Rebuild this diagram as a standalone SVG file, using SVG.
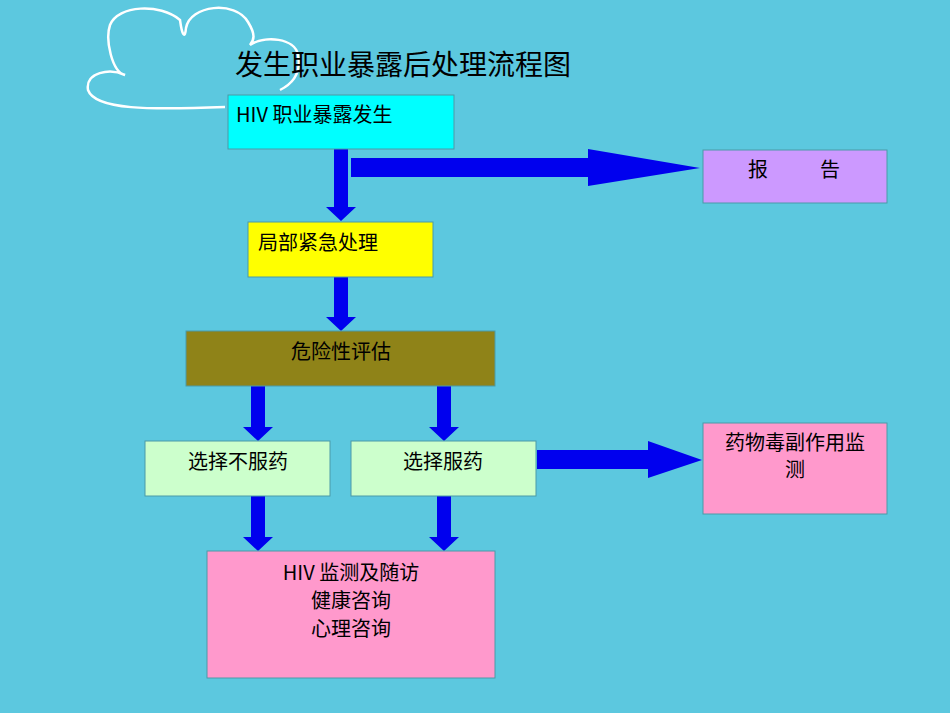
<svg xmlns="http://www.w3.org/2000/svg" width="950" height="713" viewBox="0 0 950 713">
<style>
.b{stroke:#4a9aa8;stroke-width:1}
.t{font-family:"Noto Sans CJK SC","Liberation Sans",sans-serif;font-size:20px;fill:#000}
.a{fill:#0000EE}
</style>
<rect width="950" height="713" fill="#5CC8DF"/>
<path d="M225,107 C150,110 95,110 88,90 C85,72 110,68 125,75 C112,72 105,40 110,25 C118,5 160,3 180,20 C182,35 185,40 186,28 C190,5 235,0 248,22 C256,35 254,40 250,45 C265,35 295,38 298,55 C302,75 290,85 280,90" fill="none" stroke="#fff" stroke-width="2.5"/>
<text x="235" y="75" style="font-family:'Noto Sans CJK SC',sans-serif;font-size:28px">发生职业暴露后处理流程图</text>
<g id="connectors">
<path class="a" d="M334,149h14v58h8l-15,14l-15,-14h8z"/>
<path class="a" d="M351,158h237v-9l112,19l-112,18v-9h-237z"/>
<path class="a" d="M334,277h14v40h8l-15,14l-15,-14h8z"/>
<path class="a" d="M251,386h14v41h8l-15,14l-15,-14h8z"/>
<path class="a" d="M437,386h14v41h8l-15,14l-15,-14h8z"/>
<path class="a" d="M251,496h14v41h8l-15,14l-15,-14h8z"/>
<path class="a" d="M437,496h14v41h8l-15,14l-15,-14h8z"/>
<path class="a" d="M537,450h111v-9l54,19l-54,18v-9h-111z"/>
</g>
<g id="n1"><rect class="b" x="228" y="95" width="226" height="54" fill="#00FFFF"/><text class="t" x="236" y="122">HIV 职业暴露发生</text></g>
<g id="n2"><rect class="b" x="703" y="150" width="184" height="53" fill="#CC99FF"/><text class="t" x="748" y="177">报</text><text class="t" x="820" y="177">告</text></g>
<g id="n3"><rect class="b" x="248" y="222" width="185" height="55" fill="#FFFF00"/><text class="t" x="258" y="250">局部紧急处理</text></g>
<g id="n4"><rect class="b" x="186" y="331" width="309" height="55" fill="#8F8318"/><text class="t" x="341" y="359" text-anchor="middle">危险性评估</text></g>
<g id="n5"><rect class="b" x="145" y="441" width="185" height="55" fill="#CCFFCC"/><text class="t" x="238" y="469" text-anchor="middle">选择不服药</text></g>
<g id="n6"><rect class="b" x="351" y="441" width="185" height="55" fill="#CCFFCC"/><text class="t" x="443" y="469" text-anchor="middle">选择服药</text></g>
<g id="n7"><rect class="b" x="703" y="423" width="184" height="91" fill="#FF99CC"/><text class="t" x="795" y="450" text-anchor="middle">药物毒副作用监</text><text class="t" x="795" y="477" text-anchor="middle">测</text></g>
<g id="n8"><rect class="b" x="207" y="551" width="288" height="127" fill="#FF99CC"/><text class="t" x="351" y="580" text-anchor="middle">HIV 监测及随访</text><text class="t" x="351" y="608" text-anchor="middle">健康咨询</text><text class="t" x="351" y="636" text-anchor="middle">心理咨询</text></g>
</svg>
